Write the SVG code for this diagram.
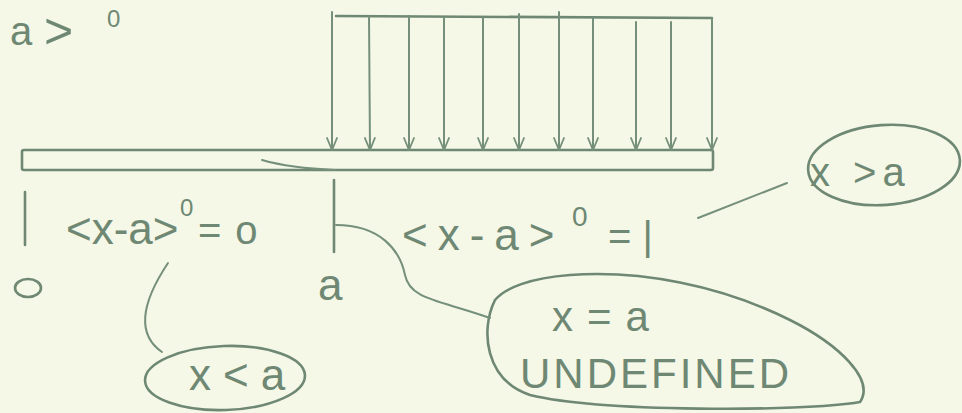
<svg xmlns="http://www.w3.org/2000/svg" width="962" height="413" viewBox="0 0 962 413">
<style>
.s{fill:none;stroke:#6e8873;stroke-width:2.6;stroke-linecap:round;stroke-linejoin:round}
.t{fill:#6e8873;font-family:"Liberation Sans","DejaVu Sans",sans-serif}
.a{fill:none;stroke:#75907a;stroke-width:2;stroke-linecap:round}
</style>
<defs>
<marker id="ah" viewBox="0 0 14 12" refX="13" refY="6" markerWidth="14" markerHeight="12" markerUnits="userSpaceOnUse" orient="auto">
<path d="M1,1 L13,6 L1,11" fill="none" stroke="#75907a" stroke-width="1.8" stroke-linecap="round"/>
</marker>
</defs>
<rect width="962" height="413" fill="#f5f7e7"/>
<g id="title">
<text class="t" x="10" y="45" font-size="40">a</text>
<text class="t" x="44" y="48" font-size="50">&gt;</text>
<text class="t" x="107" y="27" font-size="24">0</text>
</g>
<g id="beam">
<rect class="s" x="22" y="150" width="691" height="20" rx="2"/>
<path class="a" d="M262,160 Q290,168 335,170"/>
</g>
<g id="load">
<line class="s" x1="336" y1="16" x2="712" y2="18"/>
<g class="a" marker-end="url(#ah)">
<line x1="332" y1="12" x2="332" y2="150"/>
<line x1="369" y1="16" x2="370" y2="150"/>
<line x1="409" y1="16" x2="409" y2="150"/>
<line x1="444" y1="18" x2="444" y2="150"/>
<line x1="483" y1="18" x2="483" y2="150"/>
<line x1="519" y1="14" x2="519" y2="150"/>
<line x1="559" y1="12" x2="559" y2="150"/>
<line x1="593" y1="18" x2="593" y2="150"/>
<line x1="636" y1="22" x2="636" y2="150"/>
<line x1="671" y1="22" x2="671" y2="150"/>
<line x1="712" y1="18" x2="712" y2="150"/>
</g>
</g>
<g id="axis">
<line class="s" x1="25" y1="192" x2="25" y2="245"/>
<line class="s" x1="334" y1="180" x2="334" y2="252"/>
<ellipse class="s" cx="28" cy="288" rx="13" ry="9"/>
<text class="t" x="318" y="300" font-size="44">a</text>
</g>
<g id="left-expr">
<text class="t" x="66" y="244" font-size="44">&lt;x-a&gt;</text>
<text class="t" x="180" y="216" font-size="24">0</text>
<text class="t" x="198" y="244" font-size="40" letter-spacing="14">=o</text>
</g>
<g id="right-expr">
<text class="t" x="402" y="250" font-size="44" letter-spacing="10">&lt;x-a&gt;</text>
<text class="t" x="572" y="226" font-size="28">0</text>
<text class="t" x="608" y="250" font-size="40">= |</text>
</g>
<g id="node-xlta">
<ellipse class="s" cx="225" cy="378" rx="80" ry="32" transform="rotate(-2 225 378)"/>
<text class="t" x="189" y="390" font-size="44" letter-spacing="12">x&lt;a</text>
</g>
<g id="node-xeqa">
<path class="s" d="M495,300 C480,330 485,380 530,395 C600,412 800,412 860,402 C875,380 840,345 790,320 C720,285 640,270 570,275 C530,278 505,288 495,300 Z"/>
<text class="t" x="552" y="331" font-size="42" letter-spacing="14">x=a</text>
<text class="t" x="520" y="388" font-size="42" letter-spacing="3">UNDEFINED</text>
</g>
<g id="node-xgta">
<ellipse class="s" cx="884" cy="165" rx="76" ry="40" transform="rotate(-4 884 165)"/>
<text class="t" x="810" y="186" font-size="40" letter-spacing="6">x &gt;a</text>
</g>
<g id="connectors">
<path class="a" d="M168,263 C150,290 130,330 162,352"/>
<path class="a" d="M336,225 C380,225 400,250 405,275 C410,300 440,300 490,318"/>
<path class="a" d="M698,218 L787,183"/>
</g>
</svg>
